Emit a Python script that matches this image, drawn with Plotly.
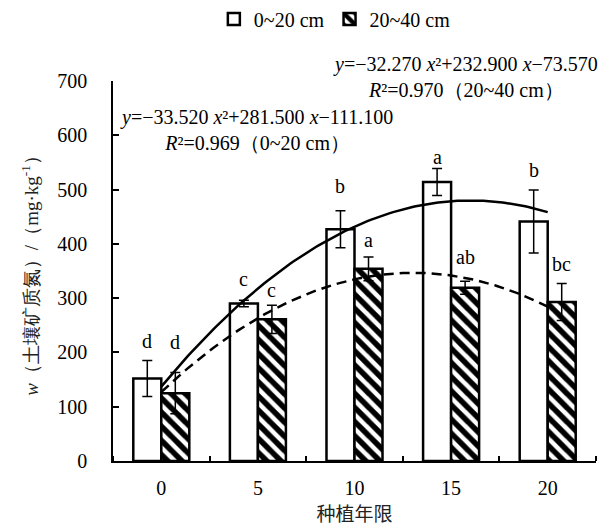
import numpy as np
import plotly.graph_objects as go

# ---------------- data ----------------
years = ["0", "5", "10", "15", "20"]
x_idx = [1, 2, 3, 4, 5]                      # trendline x variable (category order)
mean_0_20 = [152, 290, 427, 514, 441]
err_0_20 = [33, 6, 34, 25, 58]
mean_20_40 = [125, 261, 354, 319, 293]
err_20_40 = [38, 26, 22, 12, 34]
letters_0_20 = ["d", "c", "b", "a", "b"]
letters_20_40 = ["d", "c", "a", "ab", "bc"]
coef_0_20 = [-33.520, 281.500, -111.100]      # y = a x^2 + b x + c (shown on chart)
coef_20_40 = [-32.270, 232.900, -73.570]
r2_0_20 = 0.969
r2_20_40 = 0.970

# ---------------- style ----------------
FONT = "Liberation Serif"
CJK = "Noto Sans CJK SC"
BARGAP = 0.42
bar_w = (1 - BARGAP) / 2
# pixel gaps between error-bar top and letter baseline (as placed in the original)
gap_0_20 = [13, 14, 18, 4, 13]
gap_20_40 = [24, 8, 10, 17, 12]

fig = go.Figure()

fig.add_trace(go.Bar(
    x=x_idx, y=mean_0_20, name="0~20 cm",
    marker=dict(color="white", line=dict(color="black", width=2.5)),
    error_y=dict(type="data", array=err_0_20, color="black", thickness=1.5, width=5),
))
fig.add_trace(go.Bar(
    x=x_idx, y=mean_20_40, name="20~40 cm",
    marker=dict(color="white", line=dict(color="black", width=2.5),
                pattern=dict(shape="\\", fgcolor="black", bgcolor="white",
                             fgopacity=1, size=10, solidity=0.55)),
    error_y=dict(type="data", array=err_20_40, color="black", thickness=1.5, width=5),
))

xs = np.linspace(x_idx[0], x_idx[-1], 121)
fig.add_trace(go.Scatter(x=xs, y=np.polyval(coef_0_20, xs), mode="lines",
                         line=dict(color="black", width=2.5), showlegend=False,
                         hoverinfo="skip"))
fig.add_trace(go.Scatter(x=xs, y=np.polyval(coef_20_40, xs), mode="lines",
                         line=dict(color="black", width=2.5, dash="10px,6px"),
                         showlegend=False, hoverinfo="skip"))

annotations = []
for i, xv in enumerate(x_idx):
    annotations.append(dict(x=xv - bar_w / 2, y=mean_0_20[i] + err_0_20[i],
                            text=letters_0_20[i], showarrow=False, yanchor="bottom",
                            yshift=gap_0_20[i] - 6, font=dict(size=20)))
    annotations.append(dict(x=xv + bar_w / 2, y=mean_20_40[i] + err_20_40[i],
                            text=letters_20_40[i], showarrow=False, yanchor="bottom",
                            yshift=gap_20_40[i] - 6, font=dict(size=20)))


def eq_text(c, r2, label):
    a, b, k = c
    s1 = (f"<i>y</i>={'−' if a < 0 else ''}{abs(a):.3f} <i>x</i>²"
          f"{'+' if b >= 0 else '−'}{abs(b):.3f} <i>x</i>"
          f"{'+' if k >= 0 else '−'}{abs(k):.3f}")
    s2 = f"<i>R</i>²={r2:.3f}（{label}）"
    return s1 + "<br>" + s2


annotations.append(dict(xref="paper", yref="paper", x=0.298, y=0.871,
                        text=eq_text(coef_0_20, r2_0_20, "0~20 cm"),
                        showarrow=False, align="center", xanchor="center",
                        yanchor="middle", font=dict(size=20)))
annotations.append(dict(xref="paper", yref="paper", x=0.729, y=1.0105,
                        text=eq_text(coef_20_40, r2_20_40, "20~40 cm"),
                        showarrow=False, align="center", xanchor="center",
                        yanchor="middle", font=dict(size=20)))

fig.update_layout(
    width=611, height=529,
    margin=dict(l=113, r=15, t=81, b=68),
    paper_bgcolor="white", plot_bgcolor="white",
    font=dict(family=FONT, size=20, color="black"),
    barmode="group", bargap=BARGAP, bargroupgap=0,
    showlegend=True,
    legend=dict(orientation="h", xref="container", yref="container",
                x=0.35, y=0.964, xanchor="left", yanchor="middle",
                font=dict(size=20), itemwidth=30, bgcolor="rgba(0,0,0,0)"),
    annotations=annotations,
    xaxis=dict(range=[0.5, 5.5], tickmode="array", tickvals=x_idx, ticktext=years,
               ticks="", showline=True, linecolor="black", linewidth=1.5,
               showgrid=False, zeroline=False, ticklabelstandoff=8,
               minor=dict(tickmode="array", tickvals=[0.5, 1.5, 2.5, 3.5, 4.5, 5.5],
                          ticks="inside", ticklen=5, tickwidth=1.5, tickcolor="black",
                          showgrid=False),
               title=dict(text="种植年限", standoff=5,
                          font=dict(size=19, family=CJK, color="#222"))),
    yaxis=dict(range=[0, 700], tickmode="linear", tick0=0, dtick=100,
               ticks="inside", ticklen=6, tickwidth=1.5, tickcolor="black",
               showline=True, linecolor="black", linewidth=1.5,
               showgrid=False, zeroline=False, ticklabelstandoff=20,
               title=dict(text="<i>w</i>（土壤矿质氮）/（mg·kg<sup>-1</sup>）",
                          standoff=14, font=dict(size=19, color="#222"))),
)

fig.write_html("out.html", config={"displayModeBar": False},
               post_script="document.body.style.margin='0px';"
                           "document.body.style.padding='0px';")
